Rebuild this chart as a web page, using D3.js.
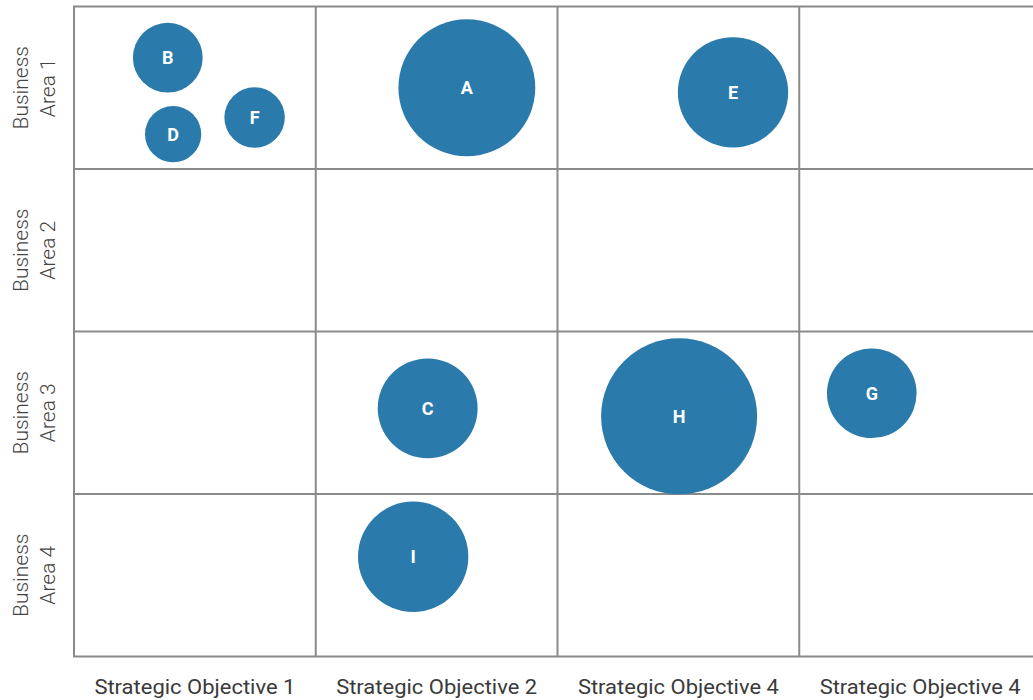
<!DOCTYPE html>
<html lang="en">
<head>
    <meta charset="UTF-8">
    <title>Bubble Grid</title>
    <script src="https://d3js.org/d3.v7.min.js"></script>
    <style>
        body { margin: 0; background: #fff; }
        .grid line { stroke: #8a8a8a; stroke-width: 2; }
        .bubble { fill: #2a7aac; }
        .bubble-label { fill: #fff; font-family: Roboto, sans-serif; font-weight: 700; font-size: 18px; }
        .col-label { fill: #3a3a3a; font-family: Roboto, sans-serif; font-weight: 400; font-size: 21px; }
        .row-label { fill: #444; font-family: Roboto, sans-serif; font-weight: 300; font-size: 21px; }
    </style>
</head>
<body>
    <svg width="1033" height="700"></svg>
    <script>
        // columns and rows
        const objectives = ["Strategic Objective 1", "Strategic Objective 2", "Strategic Objective 4", "Strategic Objective 4"];
        const areas = ["Business Area 1", "Business Area 2", "Business Area 3", "Business Area 4"];

        // bubbles: column / row index, place inside the cell (0-1), size
        const names   = ["A", "B", "C", "D", "E", "F", "G", "H", "I"];
        const colIdx  = [1, 0, 1, 0, 2, 0, 3, 2, 1];
        const rowIdx  = [0, 0, 2, 0, 0, 0, 2, 2, 3];
        const xInCell = [0.625, 0.388, 0.463, 0.41, 0.726, 0.747, 0.30, 0.503, 0.403];
        const yInCell = [0.50, 0.315, 0.473, 0.786, 0.528, 0.683, 0.38, 0.522, 0.386];
        const sizes   = [77, 20, 41, 13, 50, 15, 33, 100, 50];

        const svg = d3.select("svg");

        const x = d3.scaleBand().domain(d3.range(objectives.length)).range([74, 1041]);
        const y = d3.scaleBand().domain(d3.range(areas.length)).range([6.5, 656.5]);
        const r = d3.scaleSqrt().domain([0, 100]).range([0, 78]);

        // grid
        const grid = svg.append("g").attr("class", "grid");
        const xEdges = d3.range(objectives.length).map(d => x(d)).concat([x.range()[1]]);
        const yEdges = d3.range(areas.length).map(d => y(d)).concat([y.range()[1]]);

        grid.selectAll(".v").data(xEdges).enter().append("line")
            .attr("x1", d => d).attr("x2", d => d)
            .attr("y1", y.range()[0]).attr("y2", y.range()[1]);
        grid.selectAll(".h").data(yEdges).enter().append("line")
            .attr("y1", d => d).attr("y2", d => d)
            .attr("x1", x.range()[0] - 1).attr("x2", x.range()[1]);

        // column labels
        svg.selectAll(".col-label").data(objectives).enter().append("text")
            .attr("class", "col-label")
            .attr("x", (d, i) => x(i) + x.bandwidth() / 2)
            .attr("y", 694)
            .attr("text-anchor", "middle")
            .attr("textLength", 201)
            .attr("lengthAdjust", "spacingAndGlyphs")
            .text(d => d);

        // row labels (two lines, rotated)
        const rl = svg.selectAll(".row-label").data(areas).enter().append("text")
            .attr("class", "row-label")
            .attr("text-anchor", "middle")
            .attr("transform", (d, i) => `translate(28, ${y(i) + y.bandwidth() / 2}) rotate(-90)`);
        rl.append("tspan").attr("x", 0).attr("y", 0).text(d => d.split(" ")[0]);
        rl.append("tspan").attr("x", 0).attr("y", 27).text(d => d.split(" ").slice(1).join(" "));

        // bubbles
        const data = names.map((n, i) => ({
            name: n, col: colIdx[i], row: rowIdx[i], fx: xInCell[i], fy: yInCell[i], size: sizes[i]
        }));
        const b = svg.selectAll(".b").data(data).enter().append("g")
            .attr("transform", d => `translate(${x(d.col) + d.fx * x.bandwidth()}, ${y(d.row) + d.fy * y.bandwidth()})`);
        b.append("circle").attr("class", "bubble").attr("r", d => r(d.size));
        b.append("text").attr("class", "bubble-label")
            .attr("text-anchor", "middle")
            .attr("dy", "0.35em")
            .text(d => d.name);
    </script>
</body>
</html>
